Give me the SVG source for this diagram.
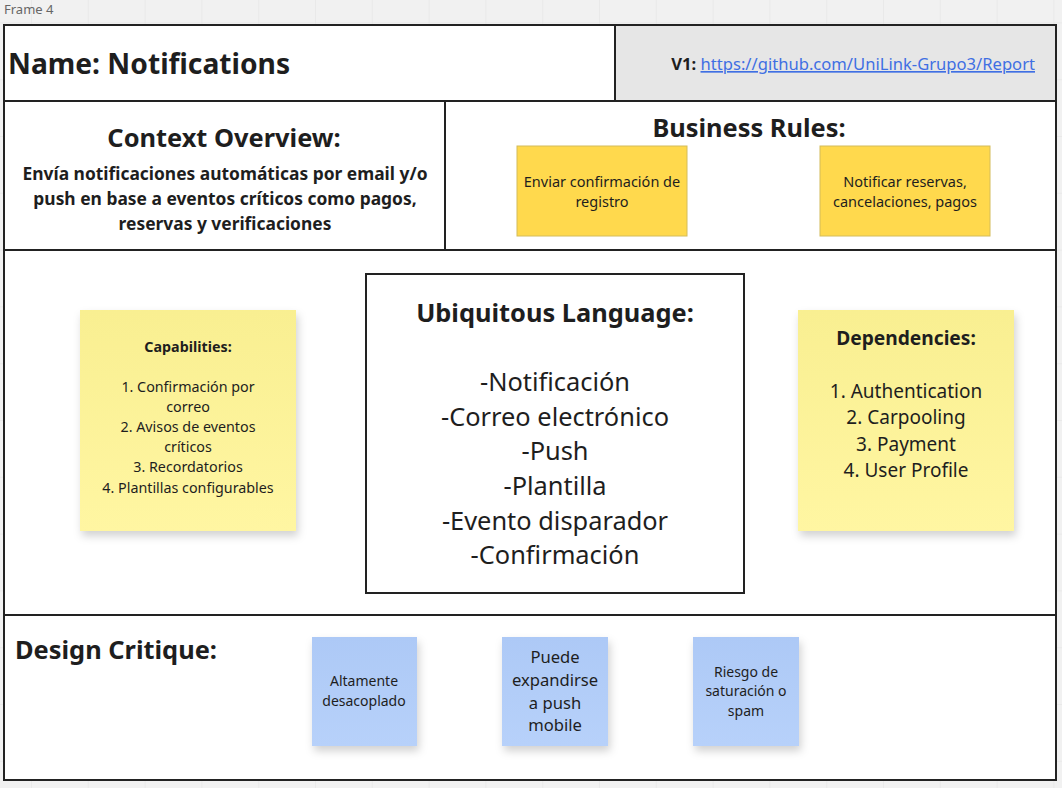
<svg xmlns="http://www.w3.org/2000/svg" width="1062" height="788" viewBox="0 0 1062 788">
  <defs>
    <pattern id="grid" patternUnits="userSpaceOnUse" x="31" y="22.4" width="56.8" height="56.8">
      <path d="M0 0 H56.8 M0 0 V56.8" fill="none" stroke="#e2e2e2" stroke-width="1"/>
    </pattern>
    <linearGradient id="ylw" x1="0" y1="0" x2="0" y2="1">
      <stop offset="0" stop-color="#f9ef91"/>
      <stop offset="1" stop-color="#fff6a2"/>
    </linearGradient>
    <linearGradient id="blu" x1="0" y1="0" x2="0" y2="1">
      <stop offset="0" stop-color="#adc9f6"/>
      <stop offset="1" stop-color="#b7d1fa"/>
    </linearGradient>
    <filter id="shadow" x="-10%" y="-10%" width="125%" height="130%">
      <feDropShadow dx="2" dy="5" stdDeviation="4" flood-color="#000" flood-opacity="0.18"/>
    </filter>
  </defs>
  <style>
    text { font-family: "Noto Sans", "Open Sans", sans-serif; fill: #1e1e1e; }
    .b { font-weight: bold; }
    .c { text-anchor: middle; }
    .cell { fill: #ffffff; stroke: #222222; stroke-width: 2; }
    .rule { fill: #ffd94d; stroke: #d4bc5a; stroke-width: 1; }
    .sticky { fill: url(#ylw); filter: url(#shadow); }
    .bsticky { fill: url(#blu); filter: url(#shadow); }
    .h { font-size: 25.4px; font-weight: bold; }
    .ul { font-size: 25.4px; }
  </style>

  <rect x="0" y="0" width="1062" height="788" fill="#f1f1f1"/>
  <rect x="0" y="0" width="1062" height="788" fill="url(#grid)"/>
  <text x="4" y="14" font-size="13" style="fill:#666666">Frame 4</text>

  <g id="frame">
    <rect x="4" y="25" width="1052" height="755" fill="#ffffff" stroke="#222222" stroke-width="2"/>
  </g>

  <g id="name-cell">
    <rect class="cell" x="4" y="25" width="611" height="76"/>
    <text class="b" x="8" y="74" font-size="28.2">Name: Notifications</text>
  </g>

  <g id="version-cell">
    <rect x="615" y="25" width="441" height="76" fill="#e6e6e6" stroke="#222222" stroke-width="2"/>
    <text x="1035" y="70" font-size="16.6" text-anchor="end"><tspan class="b">V1: </tspan><tspan style="fill:#3f6fe3" text-decoration="underline">https://github.com/UniLink-Grupo3/Report</tspan></text>
  </g>

  <g id="context-overview">
    <rect class="cell" x="4" y="101" width="441" height="149"/>
    <text class="h c" x="224" y="147">Context Overview:</text>
    <text class="b c" x="225" y="180" font-size="17.4">Envía notificaciones automáticas por email y/o</text>
    <text class="b c" x="225" y="205" font-size="17.4">push en base a eventos críticos como pagos,</text>
    <text class="b c" x="225" y="230" font-size="17.4">reservas y verificaciones</text>
  </g>

  <g id="business-rules">
    <rect class="cell" x="445" y="101" width="611" height="149"/>
    <text class="h c" x="749" y="137">Business Rules:</text>
  </g>

  <g id="rule-1">
    <rect class="rule" x="517" y="146" width="170" height="90"/>
    <text class="c" x="602" y="187" font-size="14.5">Enviar confirmación de</text>
    <text class="c" x="602" y="207" font-size="14.5">registro</text>
  </g>

  <g id="rule-2">
    <rect class="rule" x="820" y="146" width="170" height="90"/>
    <text class="c" x="905" y="187" font-size="14.5">Notificar reservas,</text>
    <text class="c" x="905" y="207" font-size="14.5">cancelaciones, pagos</text>
  </g>

  <g id="middle-row">
    <rect class="cell" x="4" y="250" width="1052" height="365"/>
  </g>

  <g id="capabilities">
    <rect class="sticky" x="80" y="310" width="216" height="221"/>
    <text class="b c" x="188" y="352" font-size="14.3">Capabilities:</text>
    <text class="c" x="188" y="392" font-size="14.3">1. Confirmación por</text>
    <text class="c" x="188" y="412" font-size="14.3">correo</text>
    <text class="c" x="188" y="432" font-size="14.3">2. Avisos de eventos</text>
    <text class="c" x="188" y="452" font-size="14.3">críticos</text>
    <text class="c" x="188" y="472" font-size="14.3">3. Recordatorios</text>
    <text class="c" x="188" y="493" font-size="14.3">4. Plantillas configurables</text>
  </g>

  <g id="ubiquitous-language">
    <rect x="366" y="274" width="378" height="319" fill="#ffffff" stroke="#222222" stroke-width="2"/>
    <text class="h c" x="555" y="322">Ubiquitous Language:</text>
    <text class="ul c" x="555" y="391">-Notificación</text>
    <text class="ul c" x="555" y="426">-Correo electrónico</text>
    <text class="ul c" x="555" y="460">-Push</text>
    <text class="ul c" x="555" y="495">-Plantilla</text>
    <text class="ul c" x="555" y="530">-Evento disparador</text>
    <text class="ul c" x="555" y="564">-Confirmación</text>
  </g>

  <g id="dependencies">
    <rect class="sticky" x="798" y="310" width="216" height="221"/>
    <text class="b c" x="906" y="345" font-size="19.2">Dependencies:</text>
    <text class="c" x="906" y="398" font-size="19">1. Authentication</text>
    <text class="c" x="906" y="424" font-size="19">2. Carpooling</text>
    <text class="c" x="906" y="451" font-size="19">3. Payment</text>
    <text class="c" x="906" y="477" font-size="19">4. User Profile</text>
  </g>

  <g id="design-critique">
    <rect class="cell" x="4" y="615" width="1052" height="165"/>
    <text class="h" x="15" y="659">Design Critique:</text>
  </g>

  <g id="critique-1">
    <rect class="bsticky" x="312" y="637" width="105" height="109"/>
    <text class="c" x="364" y="686" font-size="14">Altamente</text>
    <text class="c" x="364" y="706" font-size="14">desacoplado</text>
  </g>

  <g id="critique-2">
    <rect class="bsticky" x="502" y="637" width="106" height="109"/>
    <text class="c" x="555" y="663" font-size="16.6">Puede</text>
    <text class="c" x="555" y="686" font-size="16.6">expandirse</text>
    <text class="c" x="555" y="709" font-size="16.6">a push</text>
    <text class="c" x="555" y="731" font-size="16.6">mobile</text>
  </g>

  <g id="critique-3">
    <rect class="bsticky" x="693" y="637" width="106" height="109"/>
    <text class="c" x="746" y="677" font-size="14">Riesgo de</text>
    <text class="c" x="746" y="696" font-size="14">saturación o</text>
    <text class="c" x="746" y="716" font-size="14">spam</text>
  </g>

  <g id="connectors"></g>
</svg>
